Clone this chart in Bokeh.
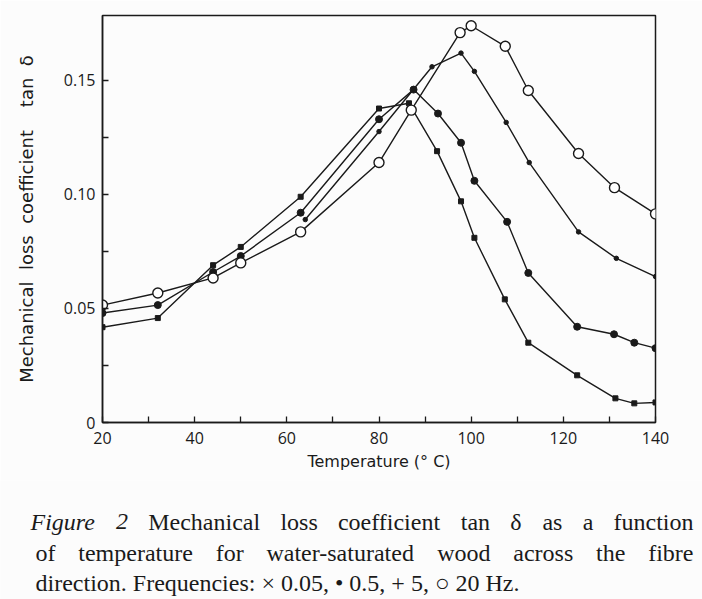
from bokeh.plotting import figure
from bokeh.models import FixedTicker, Range1d, NumeralTickFormatter
from bokeh.core.properties import value
from bokeh.embed import file_html
from bokeh.resources import INLINE

# tan delta against temperature (deg C) at four frequencies
t_005 = [20, 32, 44, 50, 63, 80, 86.5, 92.6, 97.8, 100.7, 107.3, 112.4, 123, 131.3, 135.4, 140]
d_005 = [0.0418, 0.0458, 0.069, 0.077, 0.099, 0.1377, 0.140, 0.119, 0.097, 0.081, 0.054, 0.035,
         0.0207, 0.0106, 0.0084, 0.0088]

t_05 = [20, 32, 44, 50, 63, 80, 87.5, 92.8, 97.8, 100.7, 107.8, 112.4, 123, 131, 135.4, 140]
d_05 = [0.048, 0.0515, 0.066, 0.073, 0.092, 0.133, 0.146, 0.1355, 0.1227, 0.106, 0.088, 0.0656,
        0.042, 0.0387, 0.035, 0.0326]

t_5 = [64, 80, 91.5, 97.8, 100.7, 107.6, 112.6, 123.3, 131.5, 140]
d_5 = [0.089, 0.1276, 0.156, 0.162, 0.154, 0.1316, 0.114, 0.0836, 0.072, 0.064]

t_20 = [20, 32, 44, 50, 63, 80, 87, 97.6, 100, 107.4, 112.4, 123.3, 131.1, 140]
d_20 = [0.0515, 0.0568, 0.0634, 0.070, 0.0836, 0.114, 0.137, 0.171, 0.174, 0.165, 0.1456, 0.118,
        0.103, 0.0915]

x_major = [20, 40, 60, 80, 100, 120, 140]
x_minor = [30, 50, 70, 90, 110, 130]
y_major = [0, 0.05, 0.10, 0.15]
y_minor = [0.025, 0.075, 0.125]
y_labels = {0: "0", 0.05: "0.05", 0.1: "0.10", 0.15: "0.15"}

X0, X1, Y0, Y1 = 20, 140, 0, 0.1785
W, H_PLOT, H_CAP = 702, 480, 119
FL, FR, FT, FB = 102, 655, 15, 422   # frame edges in canvas pixels

BG = "#fcfcfc"
INK = "#1a1a1a"
NB = "\u00a0"

p = figure(width=W, height=H_PLOT, x_range=Range1d(X0, X1), y_range=Range1d(Y0, Y1),
           output_backend="svg", toolbar_location=None,
           min_border_left=FL, min_border_right=W - FR,
           min_border_top=FT, min_border_bottom=H_PLOT - FB)
p.background_fill_color = BG
p.border_fill_color = BG
p.outline_line_color = INK
p.outline_line_width = 1.5
p.grid.visible = False

ax = p.xaxis[0]
ax.ticker = FixedTicker(ticks=x_major, minor_ticks=x_minor)
ax.axis_label = "Temperature" + NB + "(°" + NB + "C)"
ay = p.yaxis[0]
ay.ticker = FixedTicker(ticks=y_major, minor_ticks=y_minor)
ay.formatter = NumeralTickFormatter(format="0.00")
ay.major_label_overrides = y_labels
ay.axis_label = ("Mechanical" + NB * 2 + "loss" + NB * 2 + "coefficient" + NB * 4
                 + "tan" + NB * 2 + "δ")

for a in (ax, ay):
    a.axis_line_color = INK
    a.axis_line_width = 1.5
    a.major_tick_line_color = INK
    a.minor_tick_line_color = INK
    a.major_tick_line_width = 1.3
    a.minor_tick_line_width = 1.3
    a.major_tick_in = 6
    a.major_tick_out = 0
    a.minor_tick_in = 6
    a.minor_tick_out = 0
    a.major_label_text_font = "Open Sans"
    a.major_label_text_font_size = "16px"
    a.major_label_text_color = INK
    a.axis_label_text_font = "DejaVu Sans"
    a.axis_label_text_font_size = "16px"
    a.axis_label_text_font_style = "normal"
    a.axis_label_text_color = INK
ay.axis_label_text_font_size = "18px"
ax.major_label_standoff = 9
ax.axis_label_standoff = 5
ay.major_label_standoff = 7
ay.axis_label_standoff = 24

# curves
for t, d in ((t_005, d_005), (t_05, d_05), (t_5, d_5), (t_20, d_20)):
    p.line(t, d, line_color=INK, line_width=1.4)

# markers
p.scatter(t_005, d_005, marker="square", size=5, fill_color=INK, line_color=INK)
p.scatter(t_05, d_05, marker="circle", size=7, fill_color=INK, line_color=INK)
p.scatter(t_5, d_5, marker="circle", size=4.5, fill_color=INK, line_color=INK)
p.scatter(t_20, d_20, marker="circle", size=10, fill_color="white", line_color=INK, line_width=1.4)

# caption panel, coordinates in pixels from its bottom-left corner
cap = figure(width=W, height=H_CAP, x_range=Range1d(0, W), y_range=Range1d(0, H_CAP),
             x_axis_type=None, y_axis_type=None,
             output_backend="svg", toolbar_location=None,
             min_border_left=0, min_border_right=0, min_border_top=0, min_border_bottom=0)
cap.grid.visible = False
cap.outline_line_color = None
cap.background_fill_color = BG
cap.border_fill_color = BG

SERIF = value("Liberation Serif")
CAP_PX = 24
PAGE_H = H_PLOT + H_CAP

# approximate advance widths (1/1000 em) of the serif face, for justifying lines
ROMAN = {"a": 444, "c": 444, "d": 500, "e": 444, "f": 333, "h": 500, "i": 278, "l": 278,
         "m": 778, "n": 500, "o": 500, "p": 500, "r": 333, "s": 389, "t": 278, "u": 500,
         "w": 722, "M": 889, "-": 333, "δ": 500, "2": 500}
ITALIC = {"F": 611, "i": 278, "g": 500, "u": 500, "r": 389, "e": 444, "2": 500}


def word_width(word, italic=False):
    table = ITALIC if italic else ROMAN
    return sum(table.get(ch, 500) for ch in word) * CAP_PX / 1000.0


def justify(words, left, right):
    """Left edges of words spread so the line fills left..right."""
    widths = [word_width(w, it) for w, it in words]
    gap = (right - left - sum(widths)) / (len(words) - 1)
    xs, x = [], left
    for wd in widths:
        xs.append(x)
        x += wd + gap
    return xs


line1 = [("Figure", True), ("2", True), ("Mechanical", False), ("loss", False),
         ("coefficient", False), ("tan", False), ("δ", False), ("as", False), ("a", False),
         ("function", False)]
line2 = [("of", False), ("temperature", False), ("for", False), ("water-saturated", False),
         ("wood", False), ("across", False), ("the", False), ("fibre", False)]
line3 = "direction. Frequencies: × 0.05, • 0.5, + 5, ○ 20 Hz."

x1 = justify(line1, 30, 693)
for italic in (True, False):
    idx = [i for i, w in enumerate(line1) if w[1] == italic]
    cap.text(x=[x1[i] for i in idx], y=[PAGE_H - 521] * len(idx),
             text=[line1[i][0] for i in idx], text_font=SERIF,
             text_font_size=f"{CAP_PX}px", text_font_style="italic" if italic else "normal",
             text_baseline="middle", text_align="left", text_color=INK)
x2 = justify(line2, 35, 693)
cap.text(x=x2, y=[PAGE_H - 552] * len(line2), text=[w for w, _ in line2], text_font=SERIF,
         text_font_size=f"{CAP_PX}px", text_baseline="middle", text_align="left",
         text_color=INK)
cap.text(x=[35], y=[PAGE_H - 582], text=[line3], text_font=SERIF,
         text_font_size=f"{CAP_PX}px", text_baseline="middle", text_align="left",
         text_color=INK)

# two independent roots stacked on the page, so the caption keeps its own frame
open("out.html", "w").write(file_html([p, cap], INLINE))
